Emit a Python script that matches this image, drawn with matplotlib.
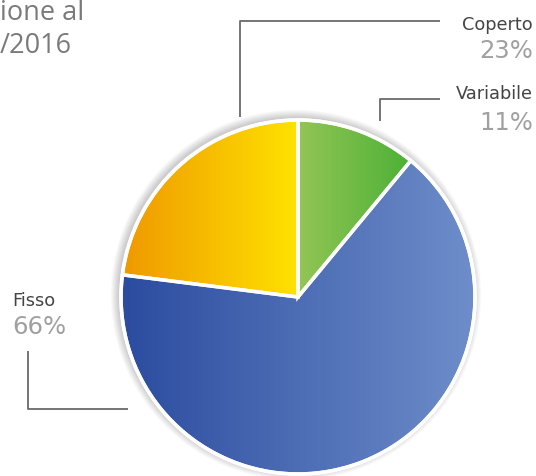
import numpy as np
import matplotlib
matplotlib.use("Agg")
import matplotlib.pyplot as plt
from matplotlib.colors import LinearSegmentedColormap
from matplotlib.patches import Circle

labels = ["Variabile", "Fisso", "Coperto"]
values = [11, 66, 23]
pct_labels = ["11%", "66%", "23%"]
title_lines = ["ione al", "/2016"]

grad_colors = [("#93c555", "#4cb136"), ("#2b4c9f", "#6e8dca"), ("#ef9800", "#ffe200")]

W, H = 536, 477
fig = plt.figure(figsize=(W / 100, H / 100), dpi=100)
ax = fig.add_axes([0, 0, 1, 1])

cx, cy, r = 298, H - 298, 177

# soft shadow
for i in range(10):
    ax.add_patch(Circle((cx - 2, cy + 2), r + 1 + i * 0.8, color="#000000",
                        alpha=0.018, lw=0, zorder=0))

wedges, _ = ax.pie(values, center=(cx, cy), radius=r, startangle=90,
                   counterclock=False, frame=True,
                   wedgeprops=dict(edgecolor="white", linewidth=2.5, facecolor="none"))
ax.set_xlim(0, W)
ax.set_ylim(0, H)
ax.set_aspect("equal")
ax.axis("off")

grad = np.linspace(0, 1, 256).reshape(1, -1)
for w, (c0, c1) in zip(wedges, grad_colors):
    w.set_zorder(3)
    bb = w.get_path().get_extents(w.get_patch_transform())
    cmap = LinearSegmentedColormap.from_list("g", [c0, c1])
    im = ax.imshow(grad, cmap=cmap, extent=[bb.x0, bb.x1, bb.y0, bb.y1],
                   aspect="auto", zorder=2, interpolation="bilinear")
    im.set_clip_path(w)
ax.add_patch(Circle((cx, cy), r, fill=False, edgecolor="white", lw=2.5, zorder=4))
ax.set_xlim(0, W)
ax.set_ylim(0, H)

lc = "#6a6a6a"
def L(xs, ys):
    ax.plot(xs, [H - y for y in ys], color=lc, lw=1.3, zorder=1, solid_capstyle="butt")

L([240, 240, 440], [118, 22, 22])
L([380, 380, 440], [122, 100, 100])
L([28, 28, 128], [352, 410, 410])

fam = ["DejaVu Sans"]
lab_c = "#444444"
pct_c = "#a0a0a0"
ax.text(533, H - 30, labels[2], ha="right", va="baseline", fontsize=12.8, color=lab_c, family=fam)
ax.text(533, H - 58, pct_labels[2], ha="right", va="baseline", fontsize=17.5, color=pct_c, family=fam)
ax.text(533, H - 99, labels[0], ha="right", va="baseline", fontsize=12.8, color=lab_c, family=fam)
ax.text(533, H - 130, pct_labels[0], ha="right", va="baseline", fontsize=17.5, color=pct_c, family=fam)
ax.text(12, H - 306, labels[1], ha="left", va="baseline", fontsize=12.8, color=lab_c, family=fam)
ax.text(12, H - 334, pct_labels[1], ha="left", va="baseline", fontsize=17.5, color=pct_c, family=fam)

tf = ["Open Sans", "DejaVu Sans"]
ax.text(0, H - 20, title_lines[0], ha="left", va="baseline", fontsize=19.5, color="#7a7a7a", family=tf)
ax.text(0, H - 53, title_lines[1], ha="left", va="baseline", fontsize=19.5, color="#7a7a7a", family=tf)

fig.savefig("out.png", dpi=100, facecolor="white")
